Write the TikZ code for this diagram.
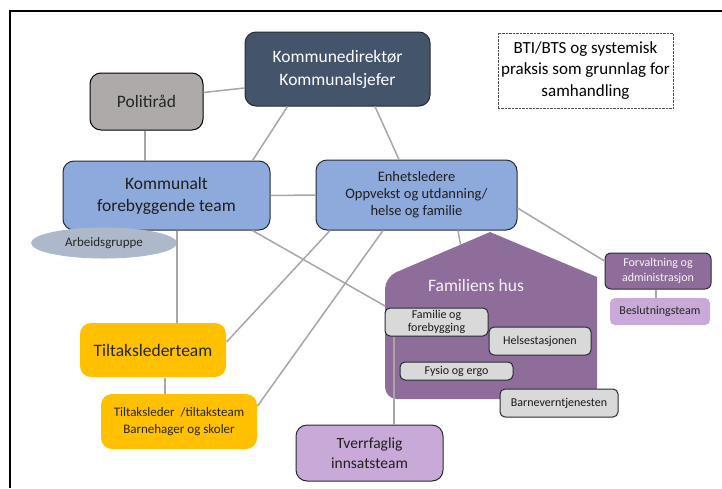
\documentclass[tikz,border=0pt]{standalone}
\usepackage{fontspec}
\setmainfont{Carlito}
\usepackage{tikz}
\usetikzlibrary{shapes.geometric}
\definecolor{navy}{HTML}{44546A}
\definecolor{greybox}{HTML}{AEAAAA}
\definecolor{bluebox}{HTML}{8EA9DB}
\definecolor{bluegrey}{HTML}{ADB9CA}
\definecolor{purple}{HTML}{8F6D9B}
\definecolor{lilac}{HTML}{C9A9D8}
\definecolor{gold}{HTML}{FFC000}
\definecolor{lightbox}{HTML}{D9D9D9}
\definecolor{linegrey}{HTML}{A6A6A6}
\definecolor{edge}{HTML}{262B33}
\tikzstyle{box} = [rectangle,rounded corners=11pt,align=center,inner sep=0pt,line width=1pt]
\tikzstyle{small} = [rectangle,rounded corners=5pt,align=center,inner sep=0pt,line width=1pt,draw=edge,fill=lightbox,text=black!90,font=\fontsize{12}{13}\selectfont]
\tikzstyle{conn} = [linegrey,line width=1.5pt]

\begin{document}
\begin{tikzpicture}[x=1pt,y=-1pt]
\useasboundingbox (0,0) rectangle (722,488);
\draw [line width=2pt] (10,488) -- (10,11) -- (722,11);

\node (komdir) [box,draw=edge,fill=navy,text=white,minimum width=185pt,minimum height=74pt,font=\fontsize{17.5}{23}\selectfont] at (337.5,69) {Kommunedirektør\\Kommunalsjefer};
\node (politi) [box,draw=black,fill=greybox,text=black!85,minimum width=113pt,minimum height=57pt,font=\fontsize{17.5}{21}\selectfont] at (146.5,101.5) {Politiråd};
\node (bti) [rectangle,draw=black!70,densely dotted,align=center,minimum width=165pt,minimum height=75pt,font=\fontsize{17}{21.5}\selectfont] at (585.5,70.5) {BTI/BTS og systemisk\\praksis som grunnlag for\\samhandling};
\node (kft) [box,draw=edge,fill=bluebox,text=black!88,minimum width=207pt,minimum height=69pt,font=\fontsize{17.5}{22}\selectfont] at (166.5,195.5) {Kommunalt\\forebyggende team};
\node (enh) [box,draw=edge,fill=bluebox,text=black!88,minimum width=201pt,minimum height=70pt,font=\fontsize{14.5}{17}\selectfont] at (416.5,195) {Enhetsledere\\Oppvekst og utdanning/\\helse og familie};
\node (arb) [ellipse,fill=bluegrey,text=black!85,minimum width=146pt,minimum height=31pt,inner sep=0pt,font=\fontsize{13}{15}\selectfont] at (104,243) {Arbeidsgruppe};

\fill [purple] (490,232) -- (597,277) [rounded corners=12pt] -- (597,399) -- (385,399) -- (385,277) [sharp corners] -- cycle;
\node (hustitle) [text=white!92!purple,font=\fontsize{17.5}{21}\selectfont] at (476,285) {Familiens hus};
\coordinate (roof) at (460.5,244.5);
\coordinate (huswall) at (385,306);

\node (forv) [box,rounded corners=6pt,draw=edge,fill=purple,text=white!92!purple,minimum width=106pt,minimum height=36pt,font=\fontsize{12}{14.5}\selectfont] at (658,271) {Forvaltning og\\administrasjon};
\node (besl) [box,rounded corners=5pt,fill=lilac,text=black!85,minimum width=100pt,minimum height=27pt,font=\fontsize{12}{14}\selectfont] at (660,311.5) {Beslutningsteam};
\node (famfor) [small,minimum width=103pt,minimum height=28pt] at (436.5,322) {Familie og\\forebygging};
\node (helse) [small,minimum width=102pt,minimum height=28pt] at (540,341) {Helsestasjonen};
\node (fysio) [small,minimum width=113pt,minimum height=18pt] at (456.5,371) {Fysio og ergo};
\node (barnev) [small,minimum width=118pt,minimum height=28pt] at (559,403) {Barneverntjenesten};
\node (tlt) [box,fill=gold,text=black!85,minimum width=146pt,minimum height=54pt,font=\fontsize{17.5}{21}\selectfont] at (153,350) {Tiltakslederteam};
\node (tls) [box,fill=gold,text=black!85,minimum width=156pt,minimum height=55pt,font=\fontsize{13}{17}\selectfont] at (179,421.5) {Tiltaksleder\ \ /tiltaksteam\\Barnehager og skoler};
\node (tvf) [box,draw=edge,fill=lilac,text=black!88,minimum width=147pt,minimum height=56pt,font=\fontsize{15.5}{20}\selectfont] at (369.5,453) {Tverrfaglig\\innsatsteam};

\draw [conn] ([yshift=9pt]politi.east) -- ([yshift=-19pt]komdir.west);
\draw [conn] ([xshift=-1.5pt]politi.south) -- ([xshift=-21.5pt]kft.north);
\draw [conn] ([xshift=-50pt]komdir.south) -- ([xshift=86pt]kft.north);
\draw [conn] ([xshift=37.5pt]komdir.south) -- ([xshift=-17.5pt]enh.north);
\draw [conn] (kft.east) -- (enh.west);
\draw [conn] ([xshift=10.5pt]kft.south) -- ([xshift=24pt]tlt.north);
\draw [conn] ([xshift=86pt]kft.south) -- (huswall);
\draw [conn] ([xshift=-86.5pt]enh.south) -- ([yshift=8pt]tlt.east);
\draw [conn] ([xshift=-33.5pt]enh.south) -- ([yshift=15.5pt]tls.east);
\draw [conn] ([xshift=41.5pt]enh.south) -- (roof);
\draw [conn] ([yshift=-13pt]enh.east) -- ([yshift=10pt]forv.west);
\draw [conn] ([xshift=-2pt]forv.south) -- ([xshift=-4pt]besl.north);
\draw [conn] ([xshift=12pt]tlt.south) -- ([xshift=-14pt]tls.north);
\draw [conn] ([xshift=-42.5pt]famfor.south) -- ([xshift=24.5pt]tvf.north);

\end{tikzpicture}
\end{document}
